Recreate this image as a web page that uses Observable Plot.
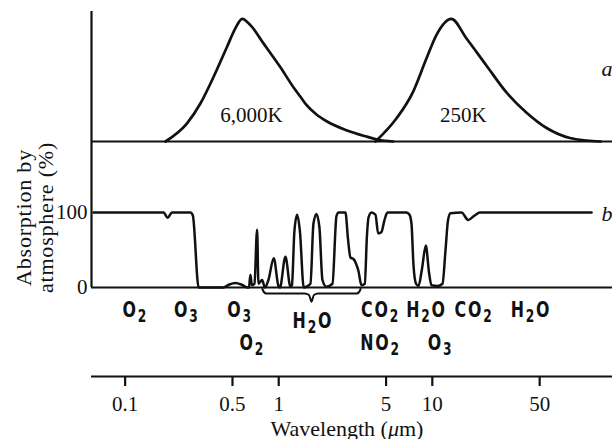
<!DOCTYPE html>
<html><head><meta charset="utf-8">
<script src="https://cdn.jsdelivr.net/npm/d3@7"></script>
<script src="https://cdn.jsdelivr.net/npm/@observablehq/plot@0.6"></script>
<style>
html,body{margin:0;padding:0;background:#fff;}
#chart{width:612px;height:439px;position:relative;overflow:hidden;background:#fff;}
#chart svg{display:block;}
</style></head><body><div id="chart"></div>
<script>
// ---- Panel a: relative emission of black bodies (wavelength in µm, normalised intensity)
const sunWavelength = [0.183,0.253,0.309,0.377,0.461,0.522,0.578,0.654,0.798,1.026,1.25,1.385,1.51,1.761,2.05,2.76,3.73,4.44,5.56];
const sunIntensity  = [0,0.148,0.31,0.528,0.773,0.923,1.0,0.949,0.798,0.605,0.44,0.365,0.30,0.22,0.165,0.092,0.04,0.014,0];
const earthWavelength = [4.27,5.85,7.51,9.17,10.65,13.3,16.7,22.5,30.4,41.1,55.5,78.7,101,125];
const earthIntensity  = [0,0.189,0.407,0.678,0.87,1.0,0.84,0.62,0.40,0.235,0.11,0.028,0.008,0];
const curveLabels = ["6,000K","250K"];
const curveLabelWavelength = [0.664, 15.9];

// ---- Panel b: absorption by atmosphere (%)
const absWavelength = [0.0623,0.178,0.189,0.202,0.266,0.276,0.301,0.436,0.477,0.522,0.571,0.625,0.640,0.654,0.669,0.695,0.723,0.738,0.780,0.813,0.857,0.928,0.996,1.018,1.106,1.192,1.219,1.265,1.318,1.374,1.455,1.609,1.683,1.761,1.841,1.926,2.045,2.238,2.376,2.448,2.720,2.824,2.931,3.066,3.184,3.305,3.457,3.633,3.755,3.840,4.018,4.266,4.442,4.667,4.883,5.106,6.792,7.104,7.318,7.541,7.833,8.128,8.569,9.072,9.517,9.881,10.81,11.65,12.19,12.66,13.14,15.49,17.13,18.84,20.39,108.9];
const absPercent    = [100,100,93,100,100,96,0,0,4,6,4,0,0,17,3,5,77,5,10,0,10,39,2,0,41,1,3,75,97,75,0,5,85,98,80,10,1,5,95,100,100,65,40,38,32,22,3,5,70,93,100,97,72,74,90,100,100,97,85,30,5,2,25,56,20,3,2,5,50,90,99,100,90,96,100,100];

// absorbing gases and where they are written
const gasNames      = ["O2","O3","O3","CO2","H2O","CO2","H2O","H2O","O2","NO2","O3"];
const gasWavelength = [0.1165,0.252,0.559,4.60,9.17,18.7,43.95,1.67,0.674,4.60,11.31];
const gasRow        = [0,0,0,0,0,0,0,1,2,2,2];
const h2oBand = [0.783, 3.41];   // extent of the brace

// axes
const xTicks = [0.1,0.5,1,5,10,50];
const xTickLabels = ["0.1","0.5","1","5","10","50"];
const yTicks = [0,100];
const yTickLabels = ["0","100"];
const xLabel = "Wavelength (μm)";
const yLabel = "Absorption by\natmosphere (%)";
const panelLabels = ["a","b"];

// ---------------------------------------------------------------
const W = 612;
const serif = "'Liberation Serif','Times New Roman',serif";
const gasFont = "'DejaVu Sans',sans-serif";
const xDomain = [0.0604, 149];

const sun = sunWavelength.map((w,i)=>({w, v: sunIntensity[i]}));
const earth = earthWavelength.map((w,i)=>({w, v: earthIntensity[i]}));
const curveLab = curveLabels.map((t,i)=>({t, w: curveLabelWavelength[i]}));
const abs = absWavelength.map((w,i)=>({w, p: absPercent[i]}));
const gases = gasNames.map((t,i)=>({t, w: gasWavelength[i], row: gasRow[i]}));

// brace shape under the H2O band (fractions along the band in log space)
const braceT = [0,0.015,0.04,0.43,0.475,0.5,0.525,0.57,0.96,0.985,1];
const braceY = [-2,-6,-8,-8,-10,-19,-10,-8,-8,-6,-2];
const la = Math.log(h2oBand[0]), lb = Math.log(h2oBand[1]);
const brace = braceT.map((t,i)=>({w: Math.exp(la + t*(lb-la)), y: braceY[i]}));

const plotA = Plot.plot({
  width: W, height: 144, marginLeft: 91, marginRight: 0, marginTop: 11, marginBottom: 0,
  x: {type: "log", domain: xDomain, axis: null},
  y: {domain: [-0.0245, 1.06], axis: null},
  style: {fontFamily: serif, fontSize: "21px", background: "transparent", overflow: "visible", color: "#111"},
  marks: [
    Plot.ruleX([xDomain[0]], {strokeWidth: 2.2}),
    Plot.ruleY([0], {strokeWidth: 2.2}),
    Plot.line(sun, {x: "w", y: "v", strokeWidth: 2.7, curve: "monotone-x"}),
    Plot.line(earth, {x: "w", y: "v", strokeWidth: 2.7, curve: "monotone-x"}),
    Plot.text(curveLab, {x: "w", y: 0, text: "t", dy: -19, lineAnchor: "bottom", fontSize: 21}),
    Plot.text([panelLabels[0]], {frameAnchor: "top-right", dx: -11, dy: 64, textAnchor: "start", lineAnchor: "bottom", fontStyle: "italic", fontSize: 22})
  ]
});

const yDomB = [-118.67, 190.67];
const tickLen = 13.3; // in y units (0.75 px each)
const plotB = Plot.plot({
  width: W, height: 295, marginLeft: 91, marginRight: 0, marginTop: 0, marginBottom: 63,
  x: {type: "log", domain: xDomain, axis: null},
  y: {domain: yDomB, axis: null},
  style: {fontFamily: serif, fontSize: "21px", background: "transparent", overflow: "visible", color: "#111"},
  marks: [
    Plot.ruleX([xDomain[0]], {y1: 0, y2: yDomB[1], strokeWidth: 2.2}),
    Plot.ruleY([0], {strokeWidth: 2}),
    Plot.ruleY([yDomB[0]], {strokeWidth: 2.2}),
    Plot.ruleX(xTicks, {x: d => d, y1: yDomB[0], y2: yDomB[0] - tickLen, strokeWidth: 2.2}),
    Plot.line(abs, {x: "w", y: "p", strokeWidth: 2.5, curve: "monotone-x"}),
    Plot.line(brace, {x: "w", y: "y", strokeWidth: 2, curve: "monotone-x"}),
    Plot.text(gases.filter(d=>d.row===0), {x: "w", y: 0, text: "t", dy: 30, lineAnchor: "bottom", fontFamily: gasFont, fontWeight: "bold", fontSize: 22, className: "gas"}),
    Plot.text(gases.filter(d=>d.row===1), {x: "w", y: 0, text: "t", dy: 41, lineAnchor: "bottom", fontFamily: gasFont, fontWeight: "bold", fontSize: 22, className: "gas"}),
    Plot.text(gases.filter(d=>d.row===2), {x: "w", y: 0, text: "t", dy: 63, lineAnchor: "bottom", fontFamily: gasFont, fontWeight: "bold", fontSize: 22, className: "gas"}),
    Plot.text(yTicks, {y: d => d, text: (d,i) => yTickLabels[i], frameAnchor: "left", dx: -4, textAnchor: "end", lineAnchor: "middle", fontSize: 21}),
    Plot.text(xTicks, {x: d => d, text: (d,i) => xTickLabels[i], frameAnchor: "bottom", dy: 20, textAnchor: "middle", lineAnchor: "top", fontSize: 21}),
    Plot.text([xLabel], {frameAnchor: "bottom", dx: -5, dy: 59, textAnchor: "middle", lineAnchor: "bottom", fontSize: 22, className: "xlab"}),
    Plot.text([yLabel], {frameAnchor: "top-left", dx: -57, dy: 73, rotate: -90, textAnchor: "middle", lineAnchor: "middle", lineHeight: 1.0, fontSize: 22, className: "ylab"}),
    Plot.text([panelLabels[1]], {frameAnchor: "top-right", dx: -11, dy: 76, textAnchor: "start", lineAnchor: "bottom", fontStyle: "italic", fontSize: 22})
  ]
});

// subscripts for chemical formulae, and condensed lettering
const NS = "http://www.w3.org/2000/svg";
plotB.querySelectorAll("g.gas text").forEach(el => {
  const s = el.textContent;
  el.textContent = "";
  el.setAttribute("letter-spacing", "2.5");
  let down = false;
  for (const ch of s) {
    const t = document.createElementNS(NS, "tspan");
    t.textContent = ch;
    const dig = /\d/.test(ch);
    if (dig) { t.setAttribute("font-size", "17"); if (!down) { t.setAttribute("dy", "4"); down = true; } }
    else if (down) { t.setAttribute("dy", "-4"); down = false; }
    el.appendChild(t);
  }
  const x = +el.getAttribute("x") || 0, y = +el.getAttribute("y") || 0;
  const prev = el.getAttribute("transform") || "";
  if (prev) el.setAttribute("transform", prev + " scale(0.72,1)");
  else el.setAttribute("transform", `translate(${x},${y}) scale(0.72,1) translate(${-x},${-y})`);
});
plotB.querySelectorAll("g.ylab text").forEach(el => el.setAttribute("letter-spacing", "0.8"));
// italic mu in axis title
plotB.querySelectorAll("g.xlab text").forEach(el => {
  const s = el.textContent; const k = s.indexOf("μ");
  if (k < 0) return;
  el.textContent = "";
  const parts = [[s.slice(0,k), false],["μ", true],[s.slice(k+1), false]];
  for (const [txt, it] of parts) {
    const t = document.createElementNS(NS, "tspan");
    t.textContent = txt; if (it) t.setAttribute("font-style", "italic");
    el.appendChild(t);
  }
});

const c = document.getElementById("chart");
c.appendChild(plotA);
c.appendChild(plotB);
</script></body></html>
